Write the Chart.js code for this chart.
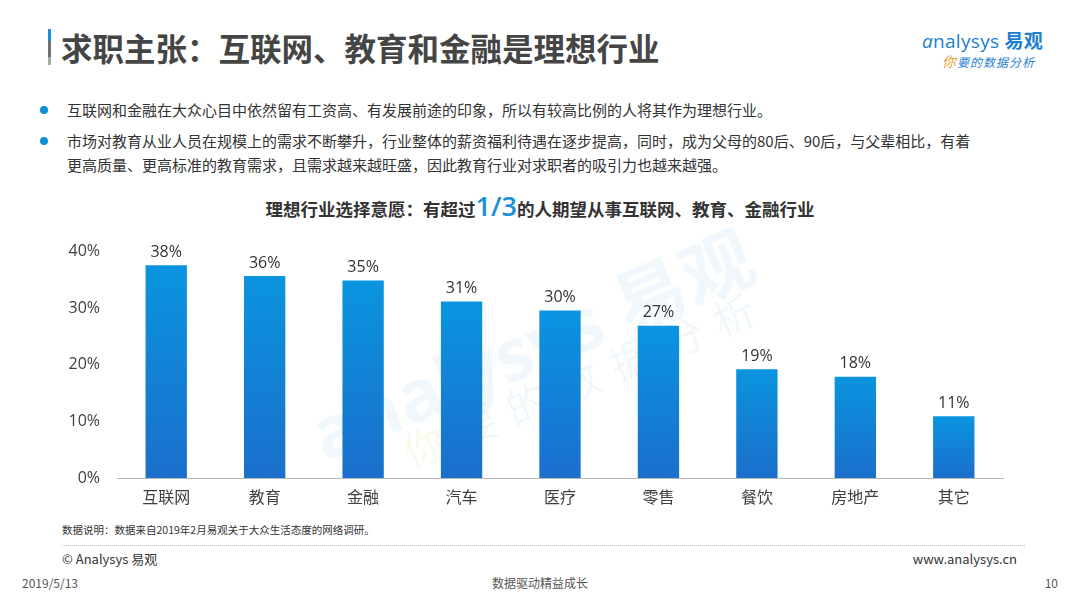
<!DOCTYPE html>
<html>
<head>
<meta charset="utf-8">
<script src="https://cdn.jsdelivr.net/npm/chart.js@4.4.1/dist/chart.umd.min.js"></script>
<style>
  html, body { margin: 0; padding: 0; background: #fff; }
  body { width: 1080px; height: 607px; position: relative; overflow: hidden;
         font-family: "Open Sans", "Noto Sans CJK SC", sans-serif; color: #333; }
  .abs { position: absolute; white-space: nowrap; }
  #titleBar { left: 48px; top: 29px; width: 3px; height: 36px;
              background: linear-gradient(#1a8fd8 0%, #1a8fd8 33%, #6f6f6f 34%, #6f6f6f 78%, #a8a8a8 79%, #a8a8a8 100%); }
  #title { left: 61px; top: 26px; font-size: 31.5px; font-weight: bold; color: #454545; line-height: 42px;
           font-family: "Noto Sans CJK SC", sans-serif; }
  .dot { width: 8px; height: 8px; border-radius: 50%; background: #0d8fd8; }
  .bullet { left: 67px; font-size: 15px; line-height: 24px; color: #333;
            font-family: "Noto Sans CJK SC", sans-serif; }
  #chartTitle { left: 0; width: 1080px; top: 191px; text-align: center; font-size: 17.5px; font-weight: bold;
                color: #333; font-family: "Noto Sans CJK SC", sans-serif; line-height: 30px; }
  #chartTitle span { color: #1a8fd8; font-size: 27px; font-family: "Open Sans", sans-serif; font-weight: 600; }
  #chartBox { position: absolute; left: 0; top: 225px; width: 1080px; height: 295px; }
  .small { font-family: "Noto Sans CJK SC", "Open Sans", sans-serif; color: #333; }
  #dots { left: 62px; top: 545px; width: 963px; height: 0; border-top: 1px dotted #bbb; }
  .wm { color: rgba(20, 140, 215, 0.06); font-weight: bold; transform-origin: left top; }
</style>
</head>
<body>
<div class="abs" id="titleBar"></div>
<div class="abs" id="title">求职主张：互联网、教育和金融是理想行业</div>

<div class="abs" style="left:922px; top:26px; font-size:19px; color:#1d7fd0; letter-spacing:0.3px;">
  <i>a</i>nalysys <b style="font-family:'Noto Sans CJK SC';">易观</b></div>
<div class="abs" style="left:942px; top:51px; font-size:12px; color:#2a7fd0; font-style:italic; letter-spacing:1px;
     font-family:'Noto Sans CJK SC';"><span style="color:#f0a030; font-size:14px;">你</span>要的数据分析</div>

<div class="abs dot" style="left:40px; top:106px;"></div>
<div class="abs bullet" style="top:98px;">互联网和金融在大众心目中依然留有工资高、有发展前途的印象，所以有较高比例的人将其作为理想行业。</div>
<div class="abs dot" style="left:40px; top:137px;"></div>
<div class="abs bullet" style="top:129px;">市场对教育从业人员在规模上的需求不断攀升，行业整体的薪资福利待遇在逐步提高，同时，成为父母的80后、90后，与父辈相比，有着<br>更高质量、更高标准的教育需求，且需求越来越旺盛，因此教育行业对求职者的吸引力也越来越强。</div>

<div class="abs" id="chartTitle">理想行业选择意愿：有超过<span>1/3</span>的人期望从事互联网、教育、金融行业</div>

<div class="abs wm" style="left:292px; top:385px; font-size:72px; transform:rotate(-23deg); font-family:'Open Sans';">analysys <span style="font-family:'Noto Sans CJK SC';">易观</span></div>
<div class="abs wm" style="left:392px; top:425px; font-size:42px; font-weight:normal; letter-spacing:14px; transform:rotate(-23deg); font-family:'Noto Sans CJK SC';"><span style="color:rgba(220,190,60,0.09);">你</span>要的数据分析</div>

<div id="chartBox"><canvas id="bars"></canvas></div>

<div class="abs small" style="left:62px; top:522px; font-size:10.5px;">数据说明：数据来自2019年2月易观关于大众生活态度的网络调研。</div>
<div class="abs" id="dots"></div>
<div class="abs small" style="left:62px; top:549px; font-size:13px;">© Analysys 易观</div>
<div class="abs small" style="left:900px; width:117px; text-align:right; top:549px; font-size:13px;">www.analysys.cn</div>
<div class="abs small" style="left:22px; top:574px; font-size:12px; color:#555;">2019/5/13</div>
<div class="abs small" style="left:0; width:1080px; text-align:center; top:574px; font-size:12px; color:#555;">数据驱动精益成长</div>
<div class="abs small" style="left:1000px; width:58px; text-align:right; top:574px; font-size:12px; color:#555;">10</div>

<script>
var industries = ['互联网', '教育', '金融', '汽车', '医疗', '零售', '餐饮', '房地产', '其它'];
var shares = [37.6, 35.7, 34.9, 31.2, 29.6, 26.9, 19.2, 17.9, 10.9];
var yTicks = [0, 10, 20, 30, 40];

Chart.defaults.font.family = '"Open Sans", "Noto Sans CJK SC", sans-serif';
Chart.defaults.color = '#404040';

// per-bar gradient, light blue at the top to deeper blue at the base
function barFill(c) {
  var ch = c.chart;
  var y = ch.scales.y;
  if (!y || !ch.chartArea || c.raw === undefined) return '#1082d6';
  var top = y.getPixelForValue(c.raw);
  var bot = y.getPixelForValue(0);
  var g = ch.ctx.createLinearGradient(0, top, 0, bot);
  g.addColorStop(0, '#0a94df');
  g.addColorStop(1, '#1b6fcc');
  return g;
}

var valueLabels = {
  id: 'valueLabels',
  afterDatasetsDraw: function(chart) {
    var ctx = chart.ctx;
    var meta = chart.getDatasetMeta(0);
    ctx.save();
    ctx.font = '16px "Open Sans", sans-serif';
    ctx.fillStyle = '#333';
    ctx.textAlign = 'center';
    ctx.textBaseline = 'bottom';
    meta.data.forEach(function(bar, i) {
      ctx.fillText(Math.round(shares[i]) + '%', bar.x, bar.y - 5);
    });
    ctx.restore();
  }
};

var ctx = document.getElementById('bars');
var chart = new Chart(ctx, {
  type: 'bar',
  data: {
    labels: industries,
    datasets: [{
      data: shares,
      backgroundColor: barFill,
      barPercentage: 0.42,
      categoryPercentage: 1.0
    }]
  },
  options: {
    responsive: true,
    maintainAspectRatio: false,
    animation: false,
    layout: { padding: { left: 0, right: 77, top: 14.4, bottom: 0 } },
    plugins: { legend: { display: false }, tooltip: { enabled: false } },
    scales: {
      x: {
        grid: { display: false, drawTicks: false },
        border: { display: true, color: '#b8b8b8', width: 1 },
        ticks: { font: { size: 16, family: '"Noto Sans CJK SC", sans-serif' }, color: '#404040', padding: 9 },
        afterFit: function(s) { s.height = 42; }
      },
      y: {
        min: 0,
        max: 40,
        grid: { display: false, drawTicks: false },
        border: { display: false },
        afterBuildTicks: function(s) { s.ticks = yTicks.map(function(v) { return { value: v }; }); },
        ticks: {
          font: { size: 16 },
          color: '#404040',
          padding: 17,
          callback: function(v) { return v + '%'; }
        },
        afterFit: function(s) { s.width = 117; }
      }
    }
  },
  plugins: [valueLabels]
});
</script>
</body>
</html>
